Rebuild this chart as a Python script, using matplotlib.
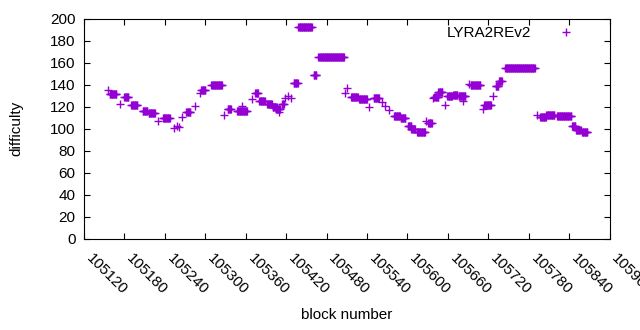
import numpy as np
import matplotlib
matplotlib.use("Agg")
import matplotlib.pyplot as plt
from matplotlib.transforms import ScaledTranslation

# difficulty runs: first block, last block, difficulty
run_start = [105155, 105158, 105173, 105180, 105190, 105207, 105216, 105230, 105237,
             105253, 105258, 105261, 105265, 105272, 105284, 105292, 105294, 105309,
             105328, 105333, 105347, 105354, 105369, 105374, 105380, 105392, 105400,
             105405, 105410, 105414, 105418, 105423, 105427, 105431, 105438, 105461,
             105468, 105507, 105511, 105516, 105528, 105543, 105550, 105562, 105567,
             105572, 105580, 105590, 105601, 105606, 105614, 105628, 105631, 105638,
             105640, 105646, 105656, 105659, 105668, 105676, 105682, 105692, 105694,
             105712, 105714, 105727, 105731, 105736, 105745, 105793, 105797, 105806,
             105822, 105844, 105850, 105859]
run_end = [105155, 105168, 105173, 105186, 105199, 105214, 105225, 105230, 105247,
           105253, 105258, 105261, 105265, 105278, 105284, 105292, 105300, 105325,
           105328, 105338, 105362, 105354, 105369, 105378, 105388, 105399, 105406,
           105411, 105410, 105417, 105418, 105423, 105427, 105437, 105458, 105465,
           105506, 105507, 105511, 105526, 105540, 105543, 105558, 105562, 105567,
           105572, 105589, 105597, 105606, 105611, 105626, 105628, 105636, 105638,
           105646, 105652, 105656, 105666, 105674, 105686, 105682, 105692, 105708,
           105712, 105724, 105727, 105735, 105740, 105789, 105793, 105805, 105818,
           105843, 105849, 105857, 105867]
run_value = [135, 132, 123, 129, 122, 116.5, 114, 107, 110,
             101, 103, 102, 111, 115.5, 120.5, 133, 135, 140,
             112.5, 118, 116, 120.5, 127, 133, 125.5, 123, 120,
             118, 115, 122.5, 128, 130, 128, 142, 193, 149,
             165, 133, 137, 129, 127, 119.5, 128, 124, 121,
             117.5, 112, 110, 103, 100, 97, 107, 105, 128,
             129, 134, 122, 130, 131, 130, 125, 141, 140,
             118, 121.5, 130, 139, 144, 155, 112.5, 110.5, 113,
             112, 103, 99, 97]

blocks = np.concatenate([np.arange(s, e + 1) for s, e in zip(run_start, run_end)])
difficulty = np.concatenate([np.full(e - s + 1, v) for s, e, v in zip(run_start, run_end, run_value)])

x_ticks = np.arange(105120, 105901, 60)
y_ticks = np.arange(0, 201, 20)

plt.rcParams["font.family"] = ["Liberation Sans", "DejaVu Sans"]
fs = 11

fig = plt.figure(figsize=(6.4, 3.3), dpi=100)
ax = fig.add_axes([84 / 640, 1 - 238.7 / 330, 525.6 / 640, 219.7 / 330])

ax.plot(blocks, difficulty, "+", color="#9400D3", ms=5.5, mew=1.0, label="LYRA2REv2")

ax.set_xlim(105120, 105900)
ax.set_ylim(0, 200)
ax.set_xticks(x_ticks)
ax.set_yticks(y_ticks)
ax.set_xticklabels([str(t) for t in x_ticks], rotation=-45, ha="left", va="top",
                   rotation_mode="anchor")
ax.tick_params(direction="in", top=True, right=True, length=4.5, width=0.8, pad=6,
               labelsize=fs, colors="black")
ax.tick_params(axis="x", pad=8)
# nudge the rotated labels so they start at the tick like gnuplot does
shift = ScaledTranslation(9.5 / 100, -1 / 100, fig.dpi_scale_trans)
for lbl in ax.get_xticklabels():
    lbl.set_transform(lbl.get_transform() + shift)
for sp in ax.spines.values():
    sp.set_linewidth(0.8)

ax.set_xlabel("block number", fontsize=fs, labelpad=8)
ax.set_ylabel("difficulty", fontsize=fs, labelpad=19)

leg = ax.legend(loc="upper right", bbox_to_anchor=(0.973, 1.023), frameon=False,
                markerfirst=False, fontsize=fs, handlelength=2.2, handletextpad=1.2,
                borderaxespad=0.4)

fig.savefig("out.png", dpi=100)
plt.close(fig)
